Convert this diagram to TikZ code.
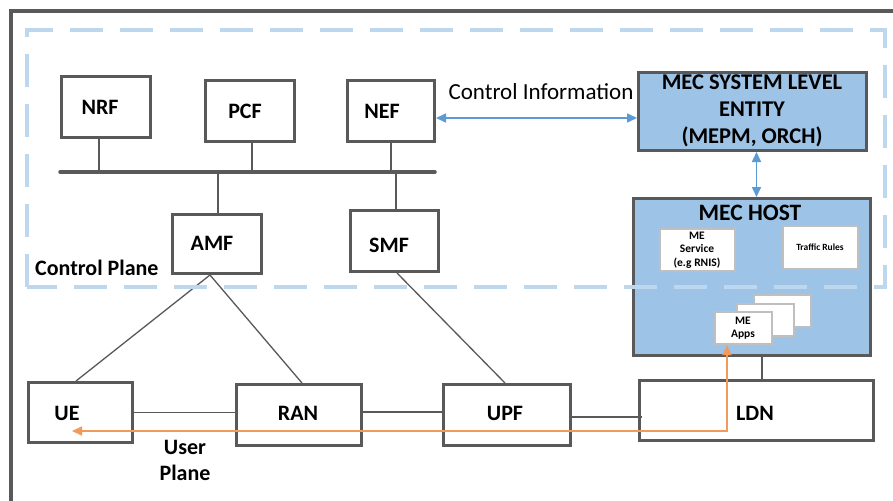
\documentclass[tikz,border=0pt]{standalone}
\usepackage{fontspec}
\setmainfont{Carlito}
\usetikzlibrary{arrows.meta,calc}
\definecolor{bgray}{HTML}{595959}
\definecolor{mecblue}{HTML}{9DC3E6}
\definecolor{dashblue}{HTML}{BDD7EE}
\definecolor{arrblue}{HTML}{5B9BD5}
\definecolor{uporange}{HTML}{F29A5C}
\definecolor{lgray}{HTML}{BFBFBF}
\begin{document}
\begin{tikzpicture}[x=1pt,y=-1pt,
  box/.style={draw=bgray, line width=3pt, fill=white, inner sep=0pt},
  mecbox/.style={draw=bgray, line width=3pt, fill=mecblue, inner sep=0pt},
  wbox/.style={draw=lgray, line width=2.2pt, fill=white, inner sep=0pt},
  lbl/.style={font=\fontsize{22}{26}\selectfont\bfseries, inner sep=0pt},
  small/.style={font=\fontsize{11.5}{13.5}\selectfont\bfseries, inner sep=0pt, align=center},
  thin/.style={draw=bgray, line width=1.3pt},
  bus/.style={draw=bgray, line width=3.5pt, line cap=round},
  frame/.style={draw=bgray, line width=3.5pt},
  cpdash/.style={draw=dashblue, line width=4pt, dash pattern=on 33pt off 17pt},
  bluearr/.style={draw=arrblue, line width=1.6pt, {Triangle[length=10pt,width=9pt]}-{Triangle[length=10pt,width=9pt]}},
  orarr/.style={draw=uporange, line width=1.6pt, {Triangle[length=10pt,width=9pt]}-{Triangle[length=10pt,width=9pt]}}
]
\useasboundingbox (0,0) rectangle (893,500);
\fill[white] (0,0) rectangle (893,500);

% outer frame
\draw[frame] (11,502) -- (11,11) -- (895,11);

% control plane functions
\node[box, minimum width=89pt, minimum height=61pt] (NRF) at (106,107) {};
\node[lbl] (tNRF) at (100,107) {NRF};
\node[box, minimum width=89pt, minimum height=61pt] (PCF) at (250,111) {};
\node[lbl] (tPCF) at (245,111) {PCF};
\node[box, minimum width=87pt, minimum height=61pt] (NEF) at (391,111) {};
\node[lbl] (tNEF) at (382,111) {NEF};
\node[box, minimum width=89pt, minimum height=59pt] (AMF) at (217,244) {};
\node[lbl] (tAMF) at (212,243) {AMF};
\node[box, minimum width=88pt, minimum height=61pt] (SMF) at (394.5,241) {};
\node[lbl] (tSMF) at (389,245) {SMF};

% bus
\coordinate (busL) at (60,172);
\coordinate (busR) at (435,172);
\draw[bus] (busL) -- (busR);
\draw[thin] ([xshift=-7pt]NRF.south) -- ([xshift=-7pt]NRF.south |- busL);
\draw[thin] ([xshift=2pt]PCF.south) -- ([xshift=2pt]PCF.south |- busL);
\draw[thin] (NEF.south) -- (NEF.south |- busL);
\draw[thin] ([xshift=1pt]AMF.north) -- ([xshift=1pt]AMF.north |- busL);
\draw[thin] ([xshift=1.5pt]SMF.north) -- ([xshift=1.5pt]SMF.north |- busL);

% user plane
\node[box, minimum width=104pt, minimum height=60pt] (UE) at (80.5,412.5) {};
\node[lbl] (tUE) at (67,413) {UE};
\node[box, minimum width=125pt, minimum height=61pt] (RAN) at (299,415) {};
\node[lbl] (tRAN) at (298,413) {RAN};
\node[box, minimum width=127pt, minimum height=61pt] (UPF) at (507,415) {};
\node[lbl] (tUPF) at (505,413) {UPF};
\node[box, minimum width=234pt, minimum height=60pt] (LDN) at (756.5,410.5) {};
\node[lbl] (tLDN) at (755,413) {LDN};

\draw[thin] (UE.east) -- (UE.east -| RAN.west);
\draw[thin] ([yshift=3pt]RAN.east) -- ([yshift=3pt]RAN.east -| UPF.west);
\draw[thin] ([yshift=-2pt]UPF.east) -- ([yshift=-2pt,xshift=4pt]UPF.east -| LDN.west);
\draw[thin] ([xshift=-7pt]AMF.south) -- ([xshift=-4.5pt]UE.north);
\draw[thin] ([xshift=-7pt]AMF.south) -- ([xshift=3pt]RAN.north);
\draw[thin] ([xshift=2.5pt]SMF.south) -- ([xshift=-2pt]UPF.north);

% MEC system level entity
\node[mecbox, minimum width=228pt, minimum height=78pt] (MECSYS) at (752.5,111.5) {};
\node[lbl, align=center, font=\fontsize{22.5}{27}\selectfont\bfseries] (tMECSYS) at (752,111) {MEC SYSTEM LEVEL\\ENTITY\\(MEPM, ORCH)};

% MEC host
\node[mecbox, minimum width=237pt, minimum height=157pt] (MECHOST) at (752,277) {};
\node[lbl, font=\fontsize{23.5}{27}\selectfont\bfseries] (tMECHOST) at (750,213) {MEC HOST};
\node[wbox, minimum width=75pt, minimum height=42pt] (MESVC) at (697.5,250) {};
\node[small] (tMESVC) at (697,250) {ME\\Service\\(e.g RNIS)};
\node[wbox, minimum width=75pt, minimum height=43pt] (TR) at (820.5,247.5) {};
\node[small, font=\fontsize{9.5}{12}\selectfont\bfseries] (tTR) at (820,247) {Traffic Rules};
\node[wbox, minimum width=57pt, minimum height=32pt] (APP3) at (782.5,311) {};
\node[wbox, minimum width=57pt, minimum height=32pt] (APP2) at (765.5,320) {};
\node[wbox, minimum width=57pt, minimum height=32pt] (APP1) at (743.5,328) {};
\node[small] (tAPP1) at (743,328) {ME\\Apps};

\draw[thin] ([xshift=10pt]MECHOST.south) -- ([xshift=10pt]MECHOST.south |- LDN.north);

% control plane region
\draw[cpdash] (27,287) -- (27,30) -- (885,30) -- (885,287) -- cycle;
\node[lbl, font=\fontsize{22}{26}\selectfont\bfseries, anchor=west] (tCP) at (35,268) {Control Plane};

% control information
\draw[bluearr] ([yshift=-7pt]NEF.east) -- ([yshift=-7pt]NEF.east -| MECSYS.west);
\node[inner sep=0pt, font=\fontsize{23}{27}\selectfont] (tCI) at (541,92) {Control Information};
\draw[bluearr] ([xshift=4pt]MECSYS.south) -- ([xshift=4pt]MECSYS.south |- MECHOST.north);

% user plane path
\coordinate (upEnd) at (72,431);
\draw[orarr] (upEnd) -| ([xshift=-16.5pt]APP1.south);
\node[lbl, align=center, font=\fontsize{22}{26}\selectfont\bfseries] (tUP) at (185,460) {User\\Plane};
\end{tikzpicture}
\end{document}
